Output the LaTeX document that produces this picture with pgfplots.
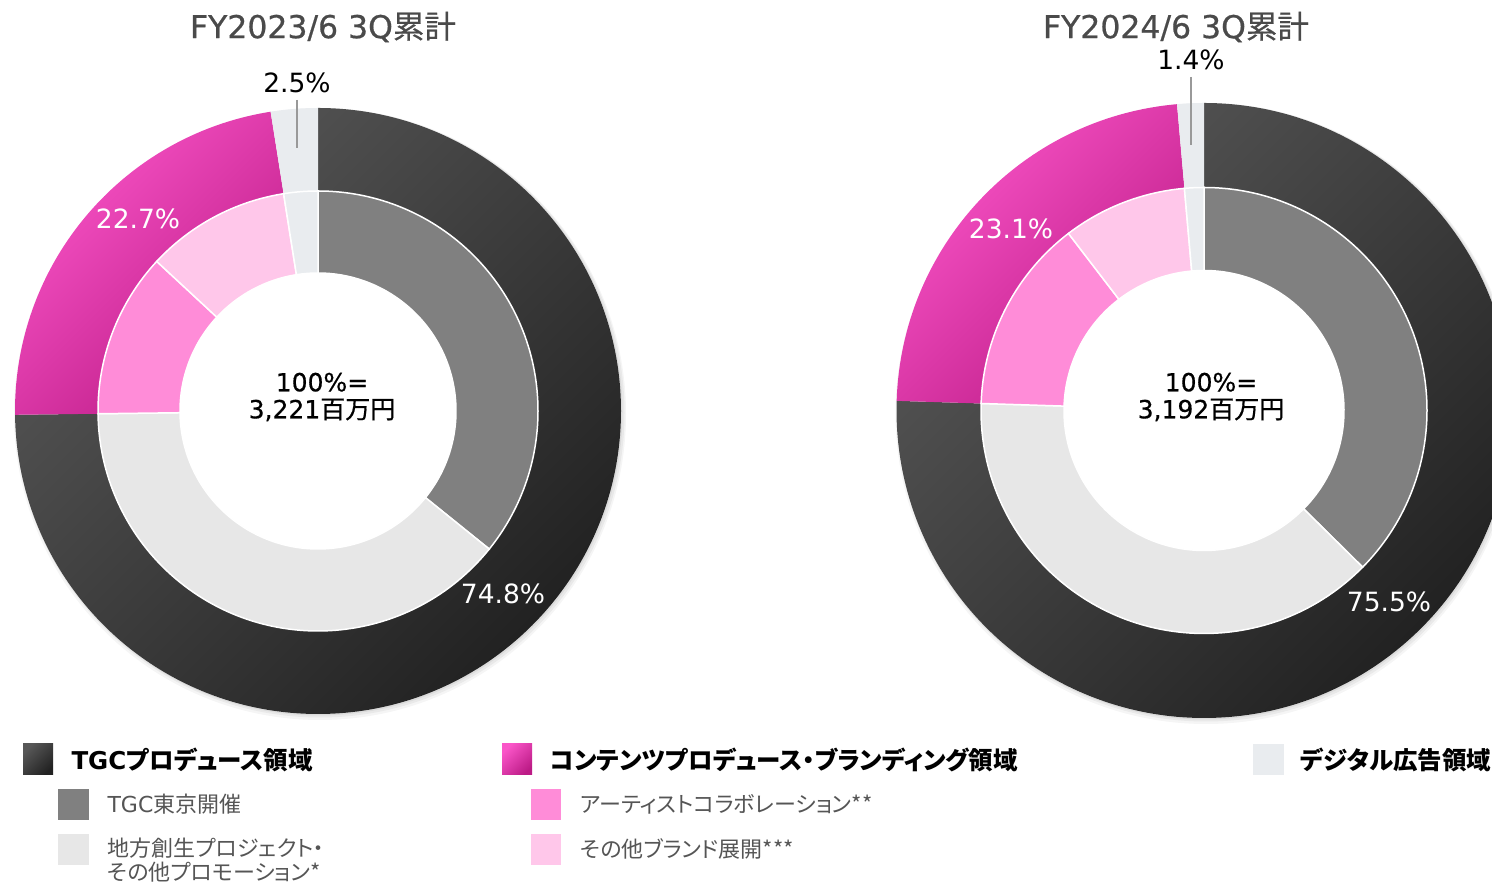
\documentclass[border=0pt]{standalone}
\usepackage{pgfplots}
\pgfplotsset{compat=1.18}
\usepackage{pgfplotstable}
\usepackage{fontspec}
\setmainfont{Noto Sans CJK JP}[RawFeature=+palt]
\newfontfamily\lt{DejaVu Sans}
\newfontfamily\ltm{DejaVu Sans}[FakeBold=0.6]
\newfontfamily\jpm{Noto Sans CJK JP}[FakeBold=0.6]

\definecolor{dkA}{HTML}{575757}
\definecolor{dkB}{HTML}{222222}
\definecolor{pkA}{HTML}{FA55C8}
\definecolor{pkB}{HTML}{BC1B86}
\definecolor{dig}{HTML}{E9ECEF}
\definecolor{tgc}{HTML}{808080}
\definecolor{reg}{HTML}{E7E7E7}
\definecolor{art}{HTML}{FF8CD8}
\definecolor{oth}{HTML}{FFC7EA}
\definecolor{ttl}{HTML}{4A4A4A}
\definecolor{sub}{HTML}{555555}

\tikzset{
  dk/.style={top color=dkA, bottom color=dkB, shading angle=45},
  pk/.style={top color=pkA, bottom color=pkB, shading angle=45},
  dg/.style={fill=dig},
  dgi/.style={fill=dig, draw=white, line width=1.5pt},
  tg/.style={fill=tgc, draw=white, line width=1.5pt},
  rg/.style={fill=reg, draw=white, line width=1.5pt},
  ar/.style={fill=art, draw=white, line width=1.5pt},
  ot/.style={fill=oth, draw=white, line width=1.5pt},
}

% FY2023/6 3Q
\pgfplotstableread{
pct  sty
74.8 dk
22.7 pk
2.5  dg
}\outerA
\pgfplotstableread{
pct  sty
35.8 tg
39.0 rg
12.1 ar
10.6 ot
2.5  dgi
}\innerA
% FY2024/6 3Q
\pgfplotstableread{
pct  sty
75.5 dk
23.1 pk
1.4  dg
}\outerB
\pgfplotstableread{
pct  sty
37.4 tg
38.1 rg
14.1 ar
9.0  ot
1.4  dgi
}\innerB

% ring: table, cx, cy, inner radius, outer radius (clockwise from 12 o'clock)
\newcommand\ring[5]{%
  \pgfplotstablegetrowsof{#1}%
  \pgfmathtruncatemacro\nrows{\pgfplotsretval-1}%
  \def\acc{0}%
  \pgfplotsforeachungrouped \i in {0,...,\nrows}{%
    \pgfplotstablegetelem{\i}{pct}\of{#1}\let\p\pgfplotsretval
    \pgfplotstablegetelem{\i}{sty}\of{#1}\let\s\pgfplotsretval
    \pgfmathsetmacro\aA{90-3.6*\acc}%
    \pgfmathsetmacro\aB{90-3.6*(\acc+\p)}%
    \pgfmathsetmacro\acc{\acc+\p}%
    \edef\cmd{\noexpand\path[\s] ({#2+#5*cos(\aA)},{#3+#5*sin(\aA)})
      arc[start angle=\aA, end angle=\aB, radius=#5pt]
      -- ({#2+#4*cos(\aB)},{#3+#4*sin(\aB)})
      arc[start angle=\aB, end angle=\aA, radius=#4pt] -- cycle;}%
    \cmd
  }%
}
% soft shadow under a ring
\newcommand\shadow[3]{%
  \fill[black, opacity=0.04] (axis cs:#1+2,#2-3) circle[radius=#3pt+3pt];
  \fill[black, opacity=0.05] (axis cs:#1+2,#2-2) circle[radius=#3pt+1.5pt];
  \fill[black, opacity=0.06] (axis cs:#1+1,#2-1) circle[radius=#3pt+0.5pt];
}

\newcommand\fs[1]{\fontsize{#1}{#1}\selectfont}

\begin{document}
\begin{tikzpicture}
\begin{axis}[
  width=1492pt, height=882pt, scale only axis,
  xmin=0, xmax=1492, ymin=0, ymax=882,
  hide axis, clip=true,
]
% left donut
\shadow{318}{471}{303}
\fill[white] (axis cs:318,471) circle[radius=303pt];
\ring{\outerA}{318}{471}{219}{303}
\ring{\innerA}{318}{471}{138}{220}
% right donut
\shadow{1204}{471.5}{307.5}
\fill[white] (axis cs:1204,471.5) circle[radius=307.5pt];
\ring{\outerB}{1204}{471.5}{222}{307.5}
\ring{\innerB}{1204}{471.5}{140}{223}

% titles
\node[text=ttl, font=\fs{31.5}] at (axis cs:323,855) {\ltm FY2023/6 3Q\jpm 累計};
\node[text=ttl, font=\fs{31.5}] at (axis cs:1176,855) {\ltm FY2024/6 3Q\jpm 累計};

% centre totals
\node[align=center, font=\fontsize{25}{27}\selectfont] at (axis cs:322,485) {{\ltm 100\%=}\\{\ltm 3,221}{\jpm 百万円}};
\node[align=center, font=\fontsize{25}{27}\selectfont] at (axis cs:1211,485) {{\ltm 100\%=}\\{\ltm 3,192}{\jpm 百万円}};

% value labels
\node[text=white, font=\lt\fs{26.5}] at (axis cs:503,288) {74.8\%};
\node[text=white, font=\lt\fs{26.5}] at (axis cs:138,663) {22.7\%};
\node[font=\lt\fs{26.5}] at (axis cs:297,799) {2.5\%};
\draw[gray!80, line width=1.2pt] (axis cs:297,782) -- (axis cs:297,734);
\node[text=white, font=\lt\fs{26.5}] at (axis cs:1389,280) {75.5\%};
\node[text=white, font=\lt\fs{26.5}] at (axis cs:1011,653) {23.1\%};
\node[font=\lt\fs{26.5}] at (axis cs:1191,822) {1.4\%};
\draw[gray!80, line width=1.2pt] (axis cs:1191,805) -- (axis cs:1191,737);

% legend
\path[dk] (axis cs:23,107) rectangle (axis cs:53,138);
\node[anchor=west, font=\bfseries\fs{24.5}] at (axis cs:68,122) {{\lt\bfseries TGC}プロデュース領域};
\fill[tgc] (axis cs:58,62) rectangle (axis cs:89,93);
\node[anchor=west, text=sub, font=\fs{22}] at (axis cs:104,78) {{\lt TGC}東京開催};
\fill[reg] (axis cs:58,17) rectangle (axis cs:89,48);
\node[anchor=west, align=left, text=sub, font=\fontsize{22}{24}\selectfont] at (axis cs:104,22) {地方創生プロジェクト・\\その他プロモーション*};

\path[pk] (axis cs:502,107) rectangle (axis cs:532,138);
\node[anchor=west, font=\bfseries\fs{24.5}] at (axis cs:547,122) {コンテンツプロデュース・ブランディング領域};
\fill[art] (axis cs:531,62) rectangle (axis cs:561,93);
\node[anchor=west, text=sub, font=\fs{22}] at (axis cs:577,78) {アーティストコラボレーション**};
\fill[oth] (axis cs:531,17) rectangle (axis cs:561,48);
\node[anchor=west, text=sub, font=\fs{22}] at (axis cs:577,33) {その他ブランド展開***};

\fill[dig] (axis cs:1253,107) rectangle (axis cs:1284,138);
\node[anchor=west, font=\bfseries\fs{24.5}] at (axis cs:1297,122) {デジタル広告領域};
\end{axis}
\pgfresetboundingbox
\path (0,0) rectangle (1492pt,882pt);
\end{tikzpicture}
\end{document}
